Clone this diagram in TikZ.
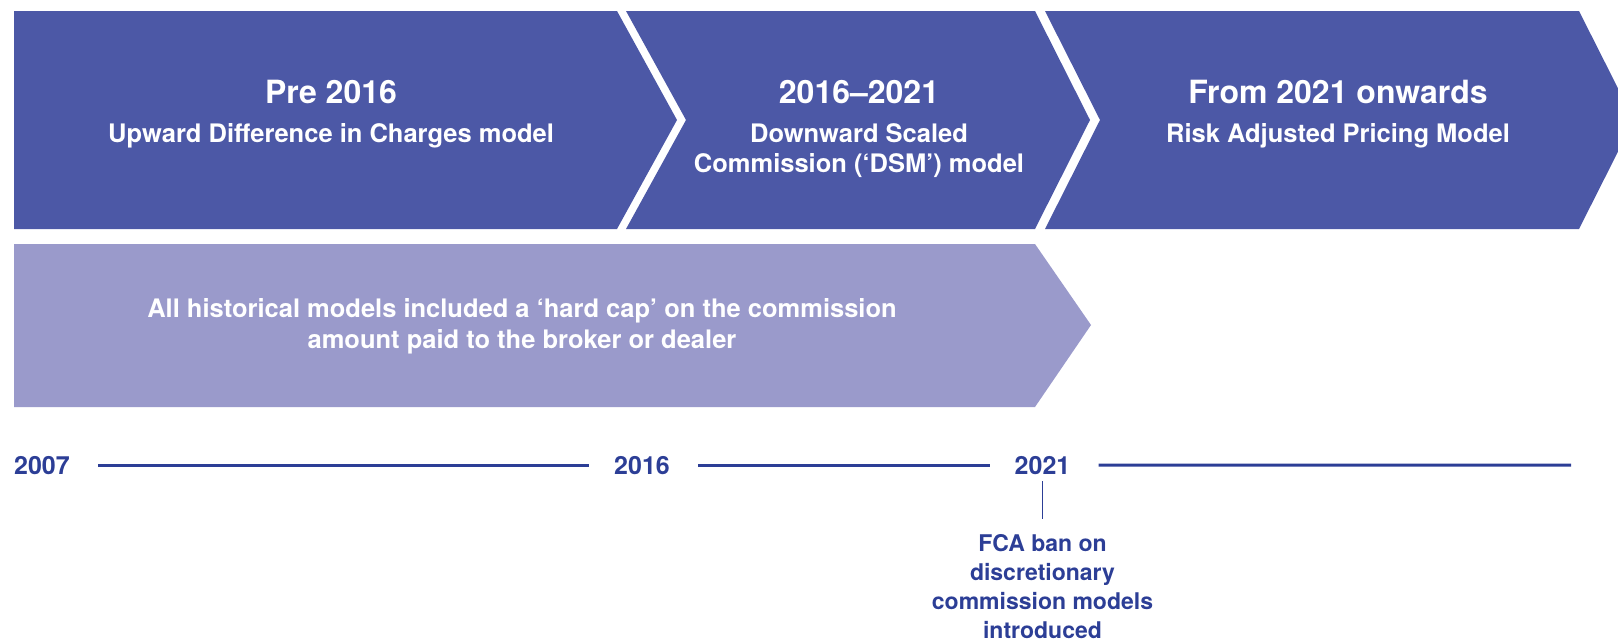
\documentclass[tikz,border=0pt]{standalone}
\usepackage{fontspec}
\setmainfont{TeX Gyre Heros}
\definecolor{phaseblue}{RGB}{76,88,166}
\definecolor{caplilac}{RGB}{154,154,203}
\definecolor{lineblue}{RGB}{44,62,150}
\begin{document}
\begin{tikzpicture}[x=1pt, y=-1pt,
    phase/.style={fill=phaseblue},
    head/.style={text=white, font=\bfseries\fontsize{32}{38}\selectfont, anchor=base},
    sub/.style={text=white, font=\bfseries\fontsize{25.5}{30}\selectfont, align=center, anchor=base},
    year/.style={text=lineblue, font=\bfseries\fontsize{25}{30}\selectfont, inner sep=0pt, anchor=base},
    axis/.style={draw=lineblue, line width=3pt, shorten <=28pt, shorten >=25pt}]
  %\draw[help lines, step=100] (0,0) grid (1618,640);
  % multi-line nodes sit on the baseline of their last line
  \clip (0,0) rectangle (1618,640);

  % the three phases
  \fill[phase] (14,11) -- (617,11) -- (677,120) -- (617,229) -- (14,229) -- cycle;
  \fill[phase] (626,11) -- (1035,11) -- (1090,120) -- (1035,229) -- (626,229) -- (686,120) -- cycle;
  \fill[phase] (1045,11) -- (1579,11) -- (1634,120) -- (1579,229) -- (1045,229) -- (1100,120) -- cycle;
  \node[head] (pre) at (331,103) {Pre 2016};
  \node[sub] (pretxt) at (331,142) {Upward Difference in Charges model};
  \node[head] (dsm) at (859,103) {2016–2021};
  \node[sub] (dsmtxt) at (859,172) {Downward Scaled\\Commission (‘DSM’) model};
  \node[head] (rap) at (1338,103) {From 2021 onwards};
  \node[sub] (raptxt) at (1338,142) {Risk Adjusted Pricing Model};

  % hard cap band
  \fill[caplilac] (14,244) -- (1035,244) -- (1091,325) -- (1035,407) -- (14,407) -- cycle;
  \node[sub, font=\bfseries\fontsize{25.5}{31}\selectfont] (cap) at (522,348)
    {All historical models included a ‘hard cap’ on the commission\\amount paid to the broker or dealer};

  % timeline
  \node[year] (y2007) at (42,474) {2007};
  \node[year] (y2016) at (642,474) {2016};
  \node[year] (y2021) at (1042.5,474) {2021};
  \coordinate (tlend) at (1571,465);
  \draw[axis] (y2007) -- (y2016);
  \draw[axis] (y2016) -- (y2021);
  \draw[axis, shorten >=0pt] (y2021) -- (tlend);
  \node[year, font=\bfseries\fontsize{23}{28.7}\selectfont, align=center] (fca) at (1042.5,638)
    {FCA ban on\\discretionary\\commission models\\introduced};
  \draw[draw=lineblue, line width=1.8pt, shorten <=7pt, shorten >=16pt] (y2021) -- (fca);
\end{tikzpicture}
\end{document}
